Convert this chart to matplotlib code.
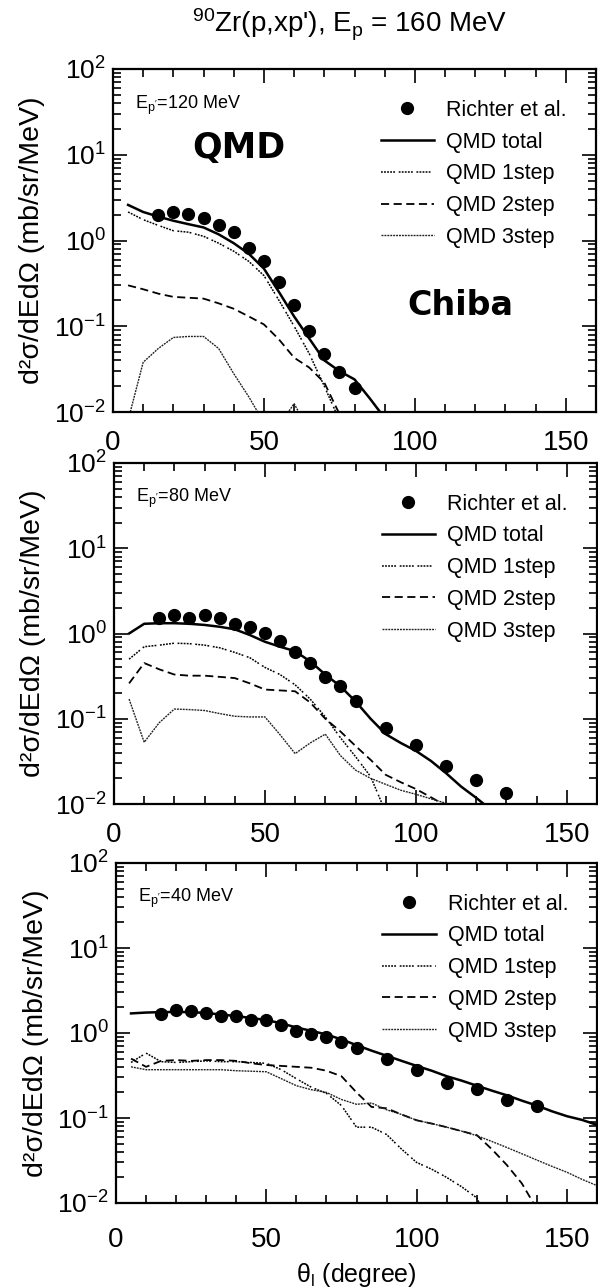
import matplotlib
matplotlib.use("Agg")
import matplotlib.pyplot as plt
from matplotlib.ticker import MultipleLocator, LogLocator, NullFormatter, FixedLocator

plt.rcParams['font.family'] = ['Liberation Sans', 'DejaVu Sans']
plt.rcParams['mathtext.fontset'] = 'custom'
plt.rcParams['mathtext.rm'] = 'Liberation Sans'
plt.rcParams['mathtext.it'] = 'Liberation Sans:italic'
plt.rcParams['mathtext.default'] = 'regular'

# ---------------- data ----------------
# Ep' = 120 MeV
exp120_theta = [15, 20, 25, 30, 35, 40, 45, 50, 55, 60, 65, 70, 75, 80]
exp120 = [2.0, 2.13, 2.05, 1.85, 1.5, 1.25, 0.82, 0.58, 0.33, 0.175, 0.088, 0.048, 0.029, 0.019]
calc120_theta = [5, 10, 15, 20, 25, 30, 35, 40, 45, 50, 55, 60, 65, 70, 75, 80, 85, 90]
total120 = [2.6, 2.15, 1.9, 1.7, 1.55, 1.42, 1.18, 0.93, 0.70, 0.47, 0.25, 0.13, 0.072, 0.040, 0.030, 0.024, 0.0145, 0.0085]
step1_120 = [2.15, 1.75, 1.5, 1.3, 1.25, 1.12, 0.93, 0.75, 0.57, 0.39, 0.20, 0.10, 0.048, 0.020, 0.008, 0.005, 0.004, 0.003]
step2_120 = [0.30, 0.27, 0.24, 0.22, 0.215, 0.21, 0.185, 0.16, 0.13, 0.105, 0.07, 0.043, 0.033, 0.022, 0.0095, 0.005, 0.004, 0.003]
step3_120 = [0.008, 0.038, 0.055, 0.074, 0.076, 0.076, 0.055, 0.028, 0.015, 0.0075, 0.007, 0.0125, 0.006, 0.004, 0.003, 0.003, 0.003, 0.003]

# Ep' = 80 MeV
exp80_theta = [15, 20, 25, 30, 35, 40, 45, 50, 55, 60, 65, 70, 75, 80, 90, 100, 110, 120, 130]
exp80 = [1.52, 1.63, 1.50, 1.64, 1.52, 1.31, 1.20, 1.02, 0.82, 0.61, 0.45, 0.31, 0.24, 0.16, 0.077, 0.049, 0.028, 0.019, 0.0134]
calc80_theta = [5, 10, 15, 20, 25, 30, 35, 40, 45, 50, 55, 60, 65, 70, 75, 80, 85, 90,
                95, 100, 105, 110, 115, 120, 125]
total80 = [1.0, 1.3, 1.32, 1.32, 1.30, 1.26, 1.20, 1.12, 0.96, 0.80, 0.70, 0.62, 0.47, 0.33, 0.24, 0.16, 0.10, 0.066,
           0.052, 0.042, 0.032, 0.023, 0.016, 0.0118, 0.0085]
step1_80 = [0.50, 0.70, 0.73, 0.77, 0.76, 0.73, 0.68, 0.60, 0.52, 0.40, 0.33, 0.25, 0.17, 0.105, 0.06, 0.036, 0.021, 0.008,
            0.005, 0.004, 0.004, 0.003, 0.003, 0.003, 0.003]
step2_80 = [0.26, 0.45, 0.38, 0.33, 0.32, 0.32, 0.31, 0.30, 0.26, 0.22, 0.215, 0.21, 0.155, 0.10, 0.071, 0.048, 0.033, 0.022,
            0.018, 0.015, 0.012, 0.0095, 0.007, 0.005, 0.004]
step3_80 = [0.17, 0.053, 0.09, 0.13, 0.128, 0.125, 0.115, 0.107, 0.105, 0.105, 0.065, 0.039, 0.052, 0.066, 0.037, 0.025, 0.020, 0.017,
            0.0145, 0.013, 0.0115, 0.0102, 0.009, 0.007, 0.005]

# Ep' = 40 MeV
exp40_theta = [15, 20, 25, 30, 35, 40, 45, 50, 55, 60, 65, 70, 75, 80, 90, 100, 110, 120, 130, 140]
exp40 = [1.66, 1.85, 1.81, 1.72, 1.58, 1.58, 1.44, 1.44, 1.24, 1.07, 0.98, 0.90, 0.79, 0.67, 0.50, 0.37, 0.26, 0.22, 0.162, 0.14]
calc40_theta = [5, 10, 15, 20, 25, 30, 35, 40, 45, 50, 55, 60, 65, 70, 75, 80, 85, 90, 95, 100,
                105, 110, 115, 120, 125, 130, 135, 140, 145, 150, 155, 160]
total40 = [1.70, 1.74, 1.76, 1.77, 1.76, 1.72, 1.65, 1.58, 1.50, 1.42, 1.30, 1.16, 1.06, 0.96, 0.84, 0.72, 0.62, 0.54, 0.47, 0.41,
           0.36, 0.31, 0.275, 0.24, 0.21, 0.185, 0.16, 0.14, 0.12, 0.105, 0.095, 0.083]
step1_40 = [0.45, 0.58, 0.46, 0.45, 0.46, 0.47, 0.46, 0.46, 0.45, 0.44, 0.37, 0.29, 0.23, 0.195, 0.14, 0.078, 0.078, 0.064, 0.043, 0.030,
            0.025, 0.020, 0.0155, 0.0115, 0.005, 0.004, 0.003, 0.003, 0.003, 0.003, 0.003, 0.003]
step2_40 = [0.50, 0.40, 0.47, 0.48, 0.47, 0.48, 0.48, 0.47, 0.44, 0.42, 0.41, 0.40, 0.39, 0.36, 0.31, 0.20, 0.135, 0.13, 0.11, 0.094,
            0.086, 0.078, 0.070, 0.063, 0.043, 0.028, 0.017, 0.0085, 0.005, 0.004, 0.003, 0.003]
step3_40 = [0.40, 0.37, 0.37, 0.37, 0.37, 0.37, 0.37, 0.36, 0.355, 0.35, 0.29, 0.24, 0.215, 0.20, 0.165, 0.145, 0.15, 0.125, 0.11, 0.094,
            0.086, 0.078, 0.070, 0.062, 0.053, 0.045, 0.038, 0.032, 0.027, 0.023, 0.019, 0.016]

panel_labels = ["E$_{p'}$=120 MeV", "E$_{p'}$=80 MeV", "E$_{p'}$=40 MeV"]
legend_labels = ["Richter et al.", "QMD total", "QMD 1step", "QMD 2step", "QMD 3step"]
x_ticks = [0, 50, 100, 150]

panels = [
    (exp120_theta, exp120, calc120_theta, total120, step1_120, step2_120, step3_120),
    (exp80_theta, exp80, calc80_theta, total80, step1_80, step2_80, step3_80),
    (exp40_theta, exp40, calc40_theta, total40, step1_40, step2_40, step3_40),
]

# ---------------- styles ----------------
style_total = dict(color='black', lw=1.8, ls='-')
style_1 = dict(color='black', lw=1.1, ls=(0, (1.2, 0.8, 1.2, 0.8, 1.2, 0.8, 1.2, 0.8, 1.2, 2.4)))
style_2 = dict(color='black', lw=1.3, ls=(0, (4.5, 2.5)))
style_3 = dict(color='#222222', lw=1.0, ls=(0, (1.4, 0.7)))

W, H = 598, 1287
fig = plt.figure(figsize=(W / 100, H / 100), dpi=100)

boxes = [  # left, bottom, right, top in pixels
    (113, 412, 596, 69),
    (114, 804, 597, 463),
    (116, 1203, 597, 863),
]
xpads = [13, 13, 17]

axes = []
for i, ((l, b, r, t), data) in enumerate(zip(boxes, panels)):
    ax = fig.add_axes([l / W, 1 - b / H, (r - l) / W, (b - t) / H])
    axes.append(ax)
    eth, ev, cth, tot, s1, s2, s3 = data
    ax.plot(cth, tot, **style_total, label=legend_labels[1])
    ax.plot(cth, s1, **style_1, label=legend_labels[2])
    ax.plot(cth, s2, **style_2, label=legend_labels[3])
    ax.plot(cth, s3, **style_3, label=legend_labels[4])
    ax.plot(eth, ev, 'o', color='black', ms=8.5, ls='none', label=legend_labels[0])

    ax.set_yscale('log')
    ax.set_ylim(1e-2, 1e2)
    ax.set_xlim(0, 160)
    ax.xaxis.set_major_locator(FixedLocator(x_ticks))
    ax.xaxis.set_minor_locator(MultipleLocator(10))
    ax.yaxis.set_major_locator(LogLocator(base=10, numticks=10))
    ax.yaxis.set_minor_locator(LogLocator(base=10, subs=range(2, 10), numticks=20))
    ax.yaxis.set_minor_formatter(NullFormatter())
    ax.tick_params(which='both', direction='in', top=True, right=True, width=1.2)
    ax.tick_params(which='major', length=10)
    ax.tick_params(which='minor', length=6)
    ax.tick_params(axis='x', which='major', labelsize=20, pad=xpads[i])
    ax.tick_params(axis='y', which='major', labelsize=19, pad=5)
    for sp in ax.spines.values():
        sp.set_linewidth(1.6)

    ax.set_ylabel("d²σ/dEdΩ (mb/sr/MeV)", fontsize=20.5)
    ax.yaxis.set_label_coords(-0.14, 0.5)

    ax.text(0.046, 0.895, panel_labels[i], transform=ax.transAxes, fontsize=13,
            ha='left', va='center')

    handles, labels = ax.get_legend_handles_labels()
    order = [4, 0, 1, 2, 3]
    ax.legend([handles[k] for k in order], [labels[k] for k in order],
              loc='upper left', bbox_to_anchor=(0.554, 0.91), frameon=False,
              fontsize=15.5, handlelength=2.5, handletextpad=0.55, labelspacing=0.5,
              borderpad=0, borderaxespad=0, numpoints=1)

# handwritten notes in the top panel
axes[0].text(0.26, 0.77, "QMD", transform=axes[0].transAxes, fontsize=25,
             family='DejaVu Sans', fontweight='bold', ha='center', va='center')
axes[0].text(0.72, 0.31, "Chiba", transform=axes[0].transAxes, fontsize=24,
             family='DejaVu Sans', fontweight='bold', ha='center', va='center')

axes[2].set_xlabel("θ$_l$ (degree)", fontsize=18, labelpad=6)

fig.text(350 / W, 1 - 25 / H, "$^{90}$Zr(p,xp'), E$_p$ = 160 MeV", fontsize=20,
         ha='center', va='center')

fig.savefig("out.png", dpi=100)
